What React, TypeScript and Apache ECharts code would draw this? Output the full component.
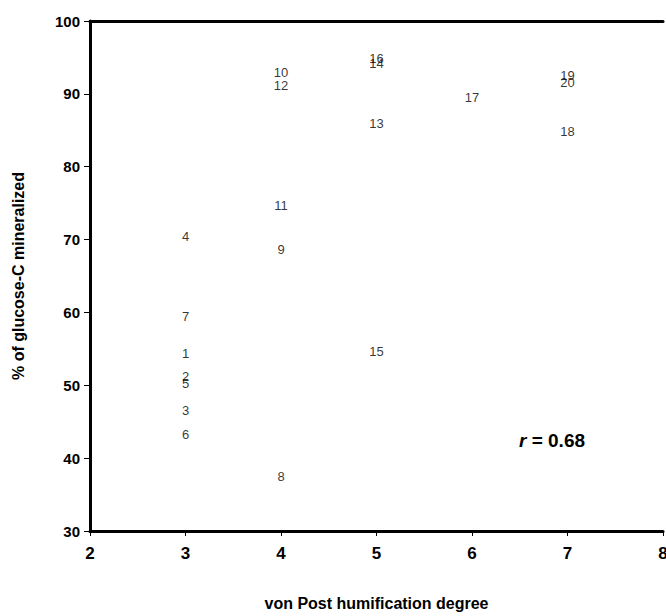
import React, { useEffect, useRef } from "react";
import * as echarts from "echarts";

const pointIds = [1, 2, 3, 4, 5, 6, 7, 8, 9, 10, 11, 12, 13, 14, 15, 16, 17, 18, 19, 20];
const humification = [3, 3, 3, 3, 3, 3, 3, 4, 4, 4, 4, 4, 5, 5, 5, 5, 6, 7, 7, 7];
const mineralized = [54.3, 51.2, 46.6, 70.4, 50.3, 43.2, 59.5, 37.5, 68.6, 92.9, 74.7, 91.1, 86.0, 94.1, 54.7, 94.8, 89.5, 84.9, 92.5, 91.6];
const xTitle = "von Post humification degree";
const yTitle = "% of glucose-C mineralized";

export default function App() {
  const ref = useRef<HTMLDivElement>(null);
  useEffect(() => {
    document.body.style.margin = "0";
    if (!ref.current) return;
    const chart = echarts.init(ref.current, null, { renderer: "svg" });
    const data = pointIds.map((id, i) => [humification[i], mineralized[i], id]);
    const font = "Liberation Sans, Arial, sans-serif";
    chart.setOption({
      animation: false,
      backgroundColor: "#ffffff",
      grid: { left: 90, right: 3, top: 21, bottom: 85, outerBoundsMode: "none", containLabel: false },
      xAxis: [
        {
          type: "value",
          min: 2,
          max: 8,
          interval: 1,
          name: xTitle,
          nameLocation: "middle",
          nameGap: 64,
          nameTextStyle: { fontFamily: font, fontWeight: "bold", fontSize: 16, color: "#000" },
          axisLine: { show: true, onZero: false, lineStyle: { color: "#000", width: 3 } },
          axisTick: { show: true, inside: false, length: 5, lineStyle: { color: "#000", width: 1 } },
          axisLabel: { fontFamily: font, fontWeight: "bold", fontSize: 17, color: "#000", margin: 14, hideOverlap: false },
          splitLine: { show: false },
        },
        {
          type: "value",
          position: "top",
          min: 2,
          max: 8,
          axisLine: { show: true, onZero: false, lineStyle: { color: "#000", width: 3 } },
          axisTick: { show: false },
          axisLabel: { show: false },
          splitLine: { show: false },
        },
      ],
      yAxis: {
        type: "value",
        min: 30,
        max: 100,
        interval: 10,
        name: yTitle,
        nameLocation: "middle",
        nameGap: 64,
        nameTextStyle: { fontFamily: font, fontWeight: "bold", fontSize: 16, color: "#000" },
        axisLine: { show: true, onZero: false, lineStyle: { color: "#000", width: 3 } },
        axisTick: { show: true, inside: false, length: 6, lineStyle: { color: "#000", width: 1 } },
        axisLabel: { fontFamily: font, fontWeight: "bold", fontSize: 15, color: "#000", margin: 10 },
        splitLine: { show: false },
      },
      series: [
        {
          type: "scatter",
          xAxisIndex: 0,
          data,
          symbol: "circle",
          symbolSize: 1,
          itemStyle: { color: "rgba(255,255,255,0)" },
          label: {
            show: true,
            position: "inside",
            formatter: (p: any) => String(p.value[2]),
            fontFamily: font,
            fontSize: 13,
            color: "#000",
            textBorderWidth: 0,
            textBorderColor: "transparent",
          },
          emphasis: { disabled: true },
        },
      ],
      graphic: [
        {
          type: "text",
          left: 519,
          top: 431,
          style: {
            text: "{i|r} = 0.68",
            fontFamily: font,
            fontWeight: "bold",
            fontSize: 19,
            fill: "#000",
            rich: {
              i: { fontFamily: font, fontWeight: "bold", fontStyle: "italic", fontSize: 19, fill: "#000" },
            },
          },
        },
      ],
    });
    return () => chart.dispose();
  }, []);
  return <div ref={ref} style={{ width: 666, height: 616 }} />;
}
